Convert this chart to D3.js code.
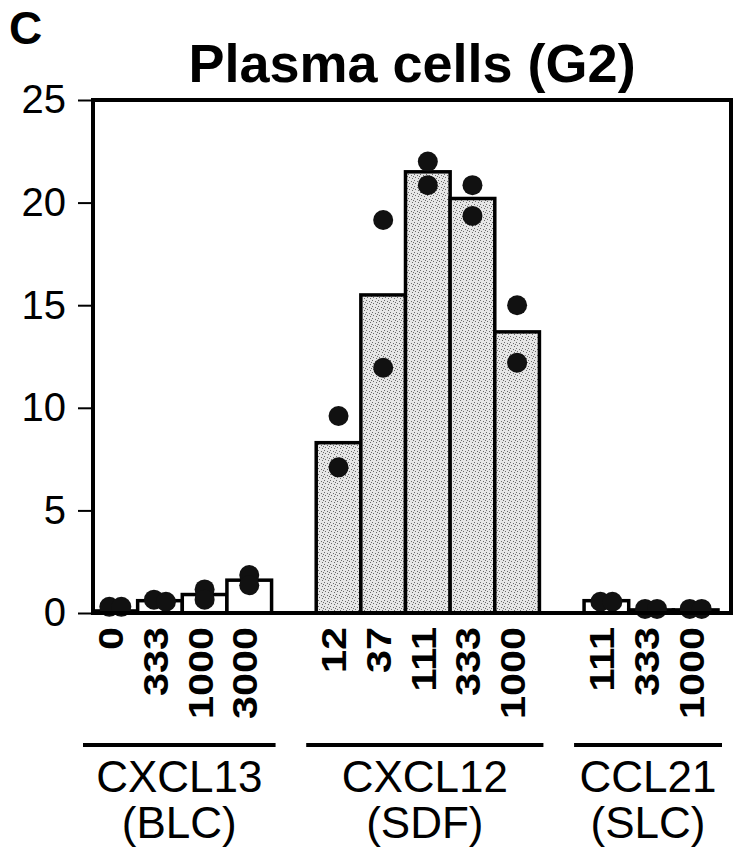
<!DOCTYPE html>
<html lang="en">
<head>
    <meta charset="UTF-8">
    <title>Plasma cells (G2)</title>
    <script src="https://d3js.org/d3.v7.min.js"></script>
    <style>
        body {
            margin: 0;
            padding: 0;
            background: white;
            font-family: "Liberation Sans", Arial, sans-serif;
        }
        svg {
            display: block;
        }
    </style>
</head>
<body>
    <svg id="chart" width="740" height="853"></svg>

    <script>
        // values
        const groups = ["CXCL13", "CXCL12", "CCL21"];
        const groupAliases = ["(BLC)", "(SDF)", "(SLC)"];
        const doses = [
            ["0", "333", "1000", "3000"],
            ["12", "37", "111", "333", "1000"],
            ["111", "333", "1000"]
        ];
        const means = [
            [0.1, 0.6, 0.9, 1.6],
            [8.3, 15.5, 21.5, 20.2, 13.7],
            [0.6, 0.15, 0.15]
        ];
        const replicates = [
            [[0.3, 0.3], [0.65, 0.55], [1.15, 0.65], [1.85, 1.35]],
            [[9.6, 7.1], [19.15, 11.95], [22.0, 20.85], [20.85, 19.35], [15.0, 12.2]],
            [[0.55, 0.55], [0.2, 0.2], [0.2, 0.2]]
        ];
        const shaded = [false, true, false];
        const yTicks = [0, 5, 10, 15, 20, 25];

        const svg = d3.select("#chart");
        const frame = { left: 93, right: 731, top: 100, bottom: 613 };

        // one slot per bar, plus an empty slot between groups
        let slots = [];
        let bars = [];
        groups.forEach((g, gi) => {
            if (gi > 0) slots.push("gap" + gi);
            doses[gi].forEach((d, di) => {
                let key = g + "|" + d;
                slots.push(key);
                bars.push({ key, group: gi, dose: d, value: means[gi][di], reps: replicates[gi][di] });
            });
        });

        let x = d3.scaleBand().domain(slots).range([frame.left, 718]).padding(0);
        let y = d3.scaleLinear().domain([0, 25]).range([frame.bottom, frame.top]);

        // stippled fill
        let defs = svg.append("defs");
        let pat = defs.append("pattern")
            .attr("id", "stipple")
            .attr("width", 6).attr("height", 6)
            .attr("patternUnits", "userSpaceOnUse");
        pat.append("rect").attr("width", 6).attr("height", 6).attr("fill", "#e6e6e6");
        [[0, 0], [3, 1], [1, 3], [4, 4], [5, 2]].forEach(([px, py]) => {
            pat.append("rect").attr("x", px).attr("y", py)
                .attr("width", 1).attr("height", 1).attr("fill", "#6a6a6a");
        });

        // panel letter and title
        svg.append("text")
            .attr("x", 9).attr("y", 44)
            .attr("font-size", 46).attr("font-weight", "bold")
            .text("C");

        svg.append("text")
            .attr("x", 412).attr("y", 82)
            .attr("text-anchor", "middle")
            .attr("font-size", 54).attr("font-weight", "bold")
            .text("Plasma cells (G2)");

        // bars
        svg.selectAll("rect.bar")
            .data(bars)
            .enter().append("rect")
            .attr("class", "bar")
            .attr("x", d => x(d.key))
            .attr("y", d => y(d.value))
            .attr("width", x.bandwidth())
            .attr("height", d => y(0) - y(d.value))
            .attr("fill", d => shaded[d.group] ? "url(#stipple)" : "white")
            .attr("stroke", "black")
            .attr("stroke-width", 3.5);

        // replicate dots (spread sideways when they sit on top of each other)
        let dots = [];
        bars.forEach(b => {
            let cx = x(b.key) + x.bandwidth() / 2;
            let same = Math.abs(b.reps[0] - b.reps[1]) < 0.1;
            b.reps.forEach((v, i) => {
                dots.push({ cx: same ? cx + (i === 0 ? -6 : 6) : cx, v });
            });
        });

        svg.selectAll("circle.dot")
            .data(dots)
            .enter().append("circle")
            .attr("class", "dot")
            .attr("cx", d => d.cx)
            .attr("cy", d => y(d.v))
            .attr("r", 10)
            .attr("fill", "#111");

        // frame
        svg.append("rect")
            .attr("x", frame.left).attr("y", frame.top)
            .attr("width", frame.right - frame.left)
            .attr("height", frame.bottom - frame.top)
            .attr("fill", "none")
            .attr("stroke", "black")
            .attr("stroke-width", 4);

        // y axis
        let yAxis = svg.append("g")
            .attr("transform", `translate(${frame.left},0)`)
            .call(d3.axisLeft(y).tickValues(yTicks).tickSize(15).tickPadding(12));
        yAxis.select(".domain").remove();
        yAxis.selectAll(".tick line").attr("stroke", "black").attr("stroke-width", 2);
        yAxis.selectAll(".tick text")
            .attr("font-family", "'Liberation Sans', Arial, sans-serif")
            .attr("font-size", 40)
            .attr("fill", "black");

        // dose labels, vertical
        svg.selectAll("text.dose")
            .data(bars)
            .enter().append("text")
            .attr("class", "dose")
            .attr("transform", d => `translate(${x(d.key) + x.bandwidth() / 2 - 5},627) rotate(-90) scale(1.15,1)`)
            .attr("dy", "0.36em")
            .attr("text-anchor", "end")
            .attr("font-size", 36)
            .attr("font-weight", "bold")
            .text(d => d.dose);

        // group lines and names
        groups.forEach((g, gi) => {
            let first = x(g + "|" + doses[gi][0]);
            let last = x(g + "|" + doses[gi][doses[gi].length - 1]) + x.bandwidth();
            let x1 = first - 10, x2 = last + 4;
            let mid = (x1 + x2) / 2;

            svg.append("line")
                .attr("x1", x1).attr("x2", x2)
                .attr("y1", 745).attr("y2", 745)
                .attr("stroke", "black")
                .attr("stroke-width", 4);

            svg.append("text")
                .attr("x", mid).attr("y", 792)
                .attr("text-anchor", "middle")
                .attr("font-size", 44)
                .text(g);

            svg.append("text")
                .attr("x", mid).attr("y", 838)
                .attr("text-anchor", "middle")
                .attr("font-size", 44)
                .text(groupAliases[gi]);
        });
    </script>
</body>
</html>
